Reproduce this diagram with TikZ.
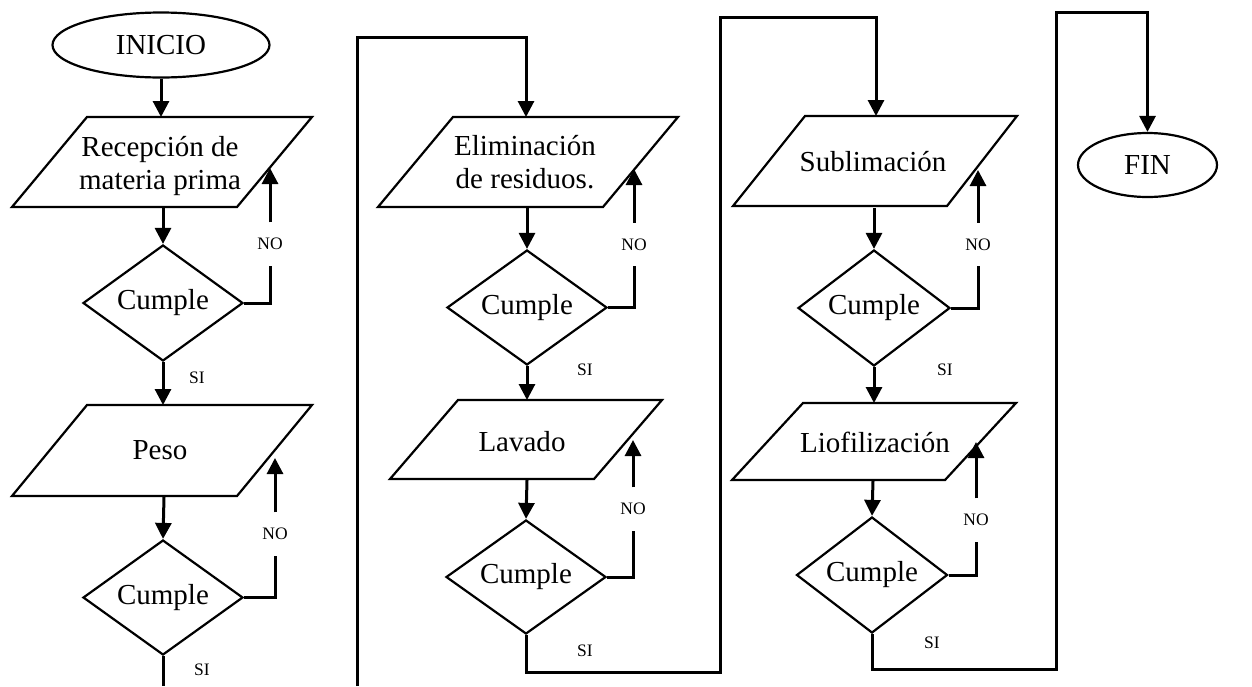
\documentclass[tikz,border=0pt]{standalone}
\usepackage{fontspec}
\setmainfont{Liberation Serif}
\usetikzlibrary{shapes.geometric,arrows.meta}
\begin{document}
\begin{tikzpicture}[x=1pt,y=-1pt,
  shp/.style={draw=black, line width=2.2pt, line join=miter},
  big/.style={font=\fontsize{29}{33}\selectfont},
  dec/.style={shp, big, diamond, shape aspect=1.38, inner sep=0pt},
  term/.style={shp, big, ellipse, inner sep=0pt},
  txt/.style={big, align=center, inner sep=0pt},
  lbl/.style={font=\fontsize{17.5}{20}\selectfont, inner sep=0pt},
  nolbl/.style={lbl, minimum height=43pt},
  conn/.style={line width=3pt, line join=miter},
  arr/.style={conn, -{Triangle[length=16pt,width=16pt]}}
]
\useasboundingbox (0,0) rectangle (1252,686);

% ---------- column 1 ----------
\node[term, minimum width=217pt, minimum height=65pt] (ini) at (161,45) {INICIO};

\draw[shp] (87,117) -- (312,117) -- (237,207) -- (12,207) -- cycle;
\node[txt] (p1) at (160,166) {Recepción de\\materia prima};
\coordinate (p1t) at (161,117);
\coordinate (p1b) at (163,208);
\coordinate (p1r) at (270,168);

\node[dec, minimum width=160pt, minimum height=116pt] (d1) at (163,303) {Cumple};
\node[nolbl] (n1) at (270,244) {NO};
\node[lbl] (s1) at (197,378) {SI};

\draw[shp] (87,405) -- (312,405) -- (237,496) -- (12,496) -- cycle;
\node[txt] (p2) at (160,450) {Peso};
\coordinate (p2t) at (163,405);
\coordinate (p2b) at (164,497);
\coordinate (p2r) at (275,458);

\node[dec, minimum width=160pt, minimum height=115pt] (d2) at (163,597.5) {Cumple};
\node[nolbl] (n2) at (275,534) {NO};
\node[lbl] (s2) at (202,670) {SI};
\coordinate (e1) at (163,686);

\draw[arr] (ini.south) -- (p1t);
\draw[arr] (p1b) -- (d1.north);
\draw[conn] (d1.east) -| (n1.south);
\draw[arr] (n1.north) -- (p1r);
\draw[arr] (d1.south) -- (p2t);
\draw[arr] (p2b) -- (d2.north);
\draw[conn] (d2.east) -| (n2.south);
\draw[arr] (n2.north) -- (p2r);
\draw[conn] (d2.south) -- (e1);

% ---------- column 2 ----------
\coordinate (c2a) at (357,686);
\coordinate (c2b) at (357,37);

\draw[shp] (453,117) -- (678,117) -- (603,207) -- (378,207) -- cycle;
\node[txt] (p3) at (525,162) {Eliminación\\de residuos.};
\coordinate (p3t) at (526,117);
\coordinate (p3b) at (527,208);
\coordinate (p3r) at (634,169);

\node[dec, minimum width=160pt, minimum height=115pt] (d3) at (527,307.5) {Cumple};
\node[nolbl] (n3) at (634,244.5) {NO};
\node[lbl] (s3) at (585,370) {SI};

\draw[shp] (458,400) -- (662,400) -- (594,479) -- (390,479) -- cycle;
\node[txt] (p4) at (522,442) {Lavado};
\coordinate (p4t) at (527,400);
\coordinate (p4b) at (527,480);
\coordinate (p4r) at (633,440);

\node[dec, minimum width=160pt, minimum height=114pt] (d4) at (526,577) {Cumple};
\node[nolbl] (n4) at (633,509) {NO};
\node[lbl] (s4) at (585,651) {SI};
\coordinate (c3a) at (526,672);
\coordinate (c3b) at (720,672);
\coordinate (c3c) at (720,17);

\draw[arr] (c2a) -- (c2b) -| (p3t);
\draw[arr] (p3b) -- (d3.north);
\draw[conn] (d3.east) -| (n3.south);
\draw[arr] (n3.north) -- (p3r);
\draw[arr] (d3.south) -- (p4t);
\draw[arr] (p4b) -- (d4.north);
\draw[conn] (d4.east) -| (n4.south);
\draw[arr] (n4.north) -- (p4r);

% ---------- column 3 ----------
\draw[shp] (805,116) -- (1017,116) -- (947,206) -- (733,206) -- cycle;
\node[txt] (p5) at (873,162) {Sublimación};
\coordinate (p5t) at (876,116);
\coordinate (p5b) at (874,208);
\coordinate (p5r) at (978,170);

\node[dec, minimum width=152pt, minimum height=116pt] (d5) at (874,308) {Cumple};
\node[nolbl] (n5) at (978,244.5) {NO};
\node[lbl] (s5) at (945,370) {SI};

\draw[shp] (803,403) -- (1016,403) -- (945,480) -- (732,480) -- cycle;
\node[txt] (p6) at (875,442) {Liofilización};
\coordinate (p6t) at (874,403);
\coordinate (p6b) at (873,481);
\coordinate (p6r) at (976,442);

\node[dec, minimum width=151pt, minimum height=116pt] (d6) at (872,575) {Cumple};
\node[nolbl] (n6) at (976,520) {NO};
\node[lbl] (s6) at (932,643) {SI};
\coordinate (c4a) at (872,669);
\coordinate (c4b) at (1056,669);
\coordinate (c4c) at (1056,12);

\draw[arr] (d4.south) -- (c3a) -- (c3b) -- (c3c) -| (p5t);
\draw[arr] (p5b) -- (d5.north);
\draw[conn] (d5.east) -| (n5.south);
\draw[arr] (n5.north) -- (p5r);
\draw[arr] (d5.south) -- (p6t);
\draw[arr] (p6b) -- (d6.north);
\draw[conn] (d6.east) -| (n6.south);
\draw[arr] (n6.north) -- (p6r);

% ---------- FIN ----------
\node[term, minimum width=139pt, minimum height=64pt] (fin) at (1147.5,165) {FIN};
\draw[arr] (d6.south) -- (c4a) -- (c4b) -- (c4c) -| (fin.north);

\end{tikzpicture}
\end{document}
